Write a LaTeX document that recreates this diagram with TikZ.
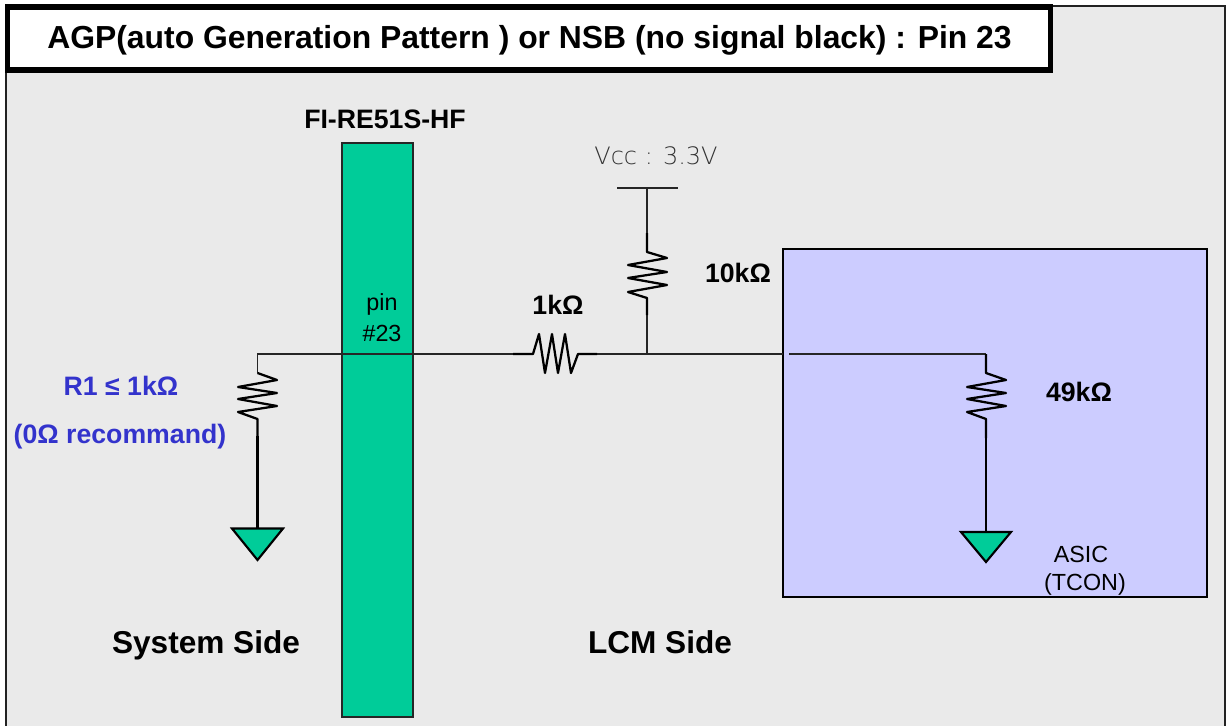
\documentclass[tikz,border=0pt]{standalone}
\usepackage{fontspec}
\setmainfont{Liberation Sans}
\newfontfamily\vccfont{DejaVu Sans ExtraLight}
\definecolor{panelbg}{HTML}{EAEAEA}
\definecolor{bargreen}{HTML}{00CC99}
\definecolor{asicblue}{HTML}{CCCCFF}
\definecolor{labelblue}{HTML}{3333CC}
\definecolor{framegray}{HTML}{222222}
\tikzset{
  box/.style={draw,inner sep=0pt,outer sep=0pt},
  wire/.style={line width=1.2pt,color=black!85},
  thickwire/.style={line width=1.6pt,color=black},
  res/.style={line width=1.7pt,color=black,line join=round},
  gnd/.style={draw=black,line width=1.6pt,fill=bargreen,line join=miter},
  lab/.style={inner sep=0pt,anchor=base,font=\fontsize{20}{24}\selectfont\bfseries},
  plain/.style={inner sep=0pt,anchor=base,font=\fontsize{17.5}{21}\selectfont},
  side/.style={inner sep=0pt,anchor=base,font=\fontsize{23.7}{28}\selectfont\bfseries}
}
\begin{document}
\begin{tikzpicture}[x=.75pt,y=-.75pt]
\useasboundingbox (0,0) rectangle (1232,725);
\clip (0,0) rectangle (1232,725);
% panel
\node[box,fill=panelbg,draw=framegray,line width=2.1pt,minimum width=1219*.75pt,minimum height=740*.75pt] (panel) at (615.5,376) {};
% title
\node[box,fill=white,draw=black,line width=4pt,minimum width=1043*.75pt,minimum height=63*.75pt] (title) at (529,38.5) {};
\node[inner sep=0pt,anchor=base,font=\fontsize{23.9}{28}\selectfont\bfseries] (titletext) at (529.5,48) {AGP(auto Generation Pattern ) or NSB (no signal black) : Pin 23};
% connector
\node[box,fill=bargreen,draw=black!85,line width=1.1pt,minimum width=71*.75pt,minimum height=574*.75pt] (bar) at (377.5,430) {};
\node[lab] (fi) at (385,128) {FI-RE51S-HF};
% asic
\node[box,fill=asicblue,draw=black,line width=2.1pt,minimum width=424*.75pt,minimum height=348*.75pt] (asic) at (995,423) {};

% named points
\coordinate (leftcorner) at (257.5,354);
\coordinate (r1top) at (257.5,373);
\coordinate (r1bot) at (257.5,419);
\coordinate (r1tail) at (257.5,436);
\coordinate (g1) at (257.5,528.5);
\coordinate (hin) at (513,354);
\coordinate (hout) at (597,354);
\coordinate (tee) at (647,354);
\coordinate (asicleft) at (783,354);
\coordinate (asicin) at (789,354);
\coordinate (rightcorner) at (986,354);
\coordinate (r3bot) at (986,419);
\coordinate (r3tail) at (986,438);
\coordinate (g2) at (986,532);
\coordinate (vccbarL) at (617,188);
\coordinate (vccbarR) at (678,188);
\coordinate (vccmid) at (647,188);
\coordinate (r2tail) at (647,233);
\coordinate (r2tailb) at (647,315);

% wires
\draw[thickwire] (g1 |- r1tail) -- (g1);
\draw[wire] (r1top) -- (leftcorner) -- (hin);
\draw[wire] (hout) -- (asicleft);
\draw[wire] (asicin) -- (rightcorner);
\draw[wire] (r2tailb) -- (tee);
\draw[wire] (vccmid) -- (r2tail);
\draw[wire] (vccbarL) -- (vccbarR);
\draw[thickwire] (r3tail) -- (g2);

% resistors
\draw[res] (r1top) -- (277,380) -- (238,387) -- (277,393) -- (238,399) -- (277,406) -- (238,412) -- (r1bot) -- (r1tail);
\draw[res] (r2tail) -- (647,252) -- (667,258) -- (628,265) -- (667,272) -- (628,278) -- (667,285) -- (628,292) -- (647,298) -- (r2tailb);
\draw[res] (hin) -- (533,354) -- (539,334) -- (545,373) -- (552,334) -- (558,373) -- (565,334) -- (571,373) -- (578,354) -- (hout);
\draw[res] (rightcorner) -- (986,373) -- (1006,380) -- (967,387) -- (1006,393) -- (967,399) -- (1006,406) -- (967,412) -- (r3bot) -- (r3tail);

% grounds
\draw[gnd] (232,528.5) -- (283,528.5) -- (257.5,560) -- cycle;
\draw[gnd] (961,532) -- (1011,532) -- (986,562) -- cycle;

% labels
\node[inner sep=0pt,anchor=base,font=\fontsize{18}{22}\selectfont\vccfont,text=black!80] (vcc) at (656,164) {Vcc : 3.3V};
\node[plain] (pin) at (382,310) {pin};
\node[plain] (pinnum) at (382,341) {\#23};
\node[lab] (k1) at (558,314) {1kΩ};
\node[lab] (k10) at (738,282) {10kΩ};
\node[lab] (k49) at (1079,401) {49kΩ};
\node[lab,text=labelblue] (r1) at (121,395) {R1 ≤ 1kΩ};
\node[lab,text=labelblue] (r1b) at (120,443) {(0Ω recommand)};
\node[plain] (as) at (1081,562) {ASIC};
\node[plain] (tc) at (1085,590) {(TCON)};
\node[side] (sys) at (206,653) {System Side};
\node[side] (lcm) at (660,653) {LCM Side};
\end{tikzpicture}
\end{document}
